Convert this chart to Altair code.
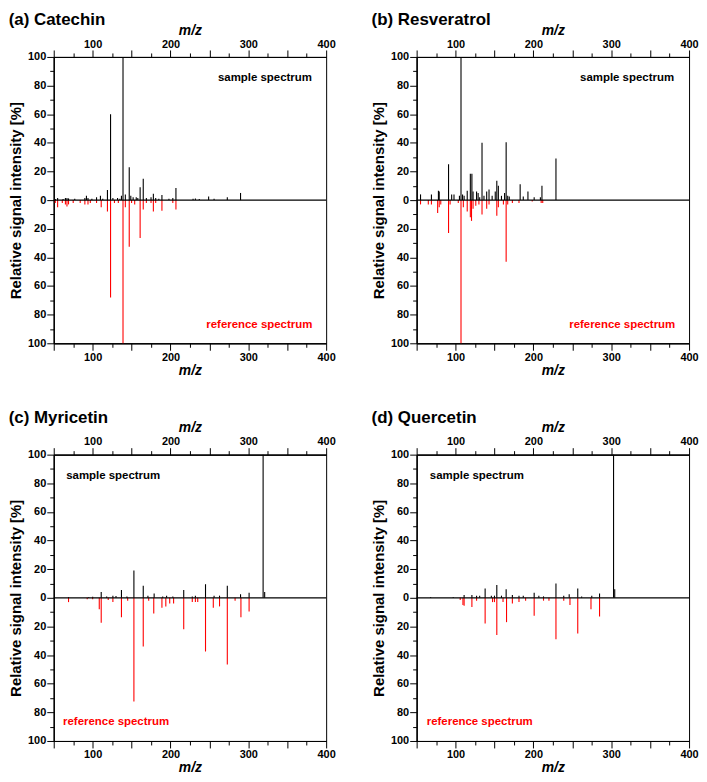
import altair as alt
import pandas as pd

# ── Peak lists: m/z and relative intensity [%] ──────────────────────────────
catechin_sample_mz = [52, 55, 62, 65, 67, 69, 77, 90, 92, 94, 99, 105, 110, 113,
                      119, 123, 126, 132, 135, 137, 139, 142, 147, 149, 152, 156,
                      158, 161, 165, 169, 175, 178, 181, 185, 189, 198, 203, 207,
                      229, 232, 237, 249, 256, 273, 290]
catechin_sample_int = [0.8, 1.5, 0.8, 1.5, 1.5, 1.2, 1, 1.5, 3, 1.5, 1, 2, 3, 1,
                       7, 60, 1.5, 1.5, 1, 3, 100, 4, 23, 3, 2, 2,
                       1.5, 9, 15, 1.5, 2, 4.5, 1.5, 1, 3.5, 1, 1.5, 8.5,
                       1, 1.2, 0.8, 2.5, 1, 2, 5]
catechin_ref_mz = [52, 55, 61, 65, 67, 69, 75, 84, 90, 94, 97, 105, 111, 119,
                   123, 128, 133, 139, 142, 147, 150, 154, 161, 165, 169, 175,
                   178, 181, 189, 203, 207]
catechin_ref_int = [2, 5, 2, 3, 4.5, 3, 2, 2, 3, 3, 2, 2, 5, 8,
                    68, 2, 2, 100, 5, 32.5, 2, 3, 26.5, 6.5, 2, 2,
                    8, 2, 7.5, 2, 6.5]

resveratrol_sample_mz = [55, 69, 78, 79, 91, 95, 98, 105, 107, 109, 111, 115, 119,
                         121, 122.5, 127, 129, 131, 134, 136.5, 140, 143, 147, 151,
                         153, 155, 159, 163, 165, 167, 169, 183, 187, 193, 201,
                         209, 211, 229]
resveratrol_sample_int = [4, 4, 6.5, 6, 25, 4, 4, 3, 100, 4, 3, 6.5, 18.5,
                          18.5, 6, 6, 5, 2, 40, 3, 6, 7.5, 3, 6,
                          13.5, 10, 3, 5, 40.5, 3, 2.5, 11, 2.5, 6, 2,
                          2, 10, 29]
resveratrol_ref_mz = [55, 65, 69, 77, 79, 81, 91, 93, 103.5, 107, 110, 115, 119,
                      120.5, 122.5, 126, 130, 134, 140, 143, 153, 155, 161.5, 165,
                      167, 173, 181.5, 198.5, 210, 212]
resveratrol_ref_int = [3, 3, 3, 9, 5, 3, 23, 3, 2, 100, 5, 8, 12,
                       14.5, 6, 4, 3, 10, 6, 3, 11, 5, 3, 43,
                       3, 2, 2, 1, 2, 2]

myricetin_sample_mz = [69, 95, 100, 111, 118, 126, 130, 137, 144, 153, 165, 171,
                       179, 190, 195, 203, 217, 228, 232, 245, 256, 263, 273, 290,
                       301, 319, 321]
myricetin_sample_int = [0.5, 0.5, 0.8, 4, 1, 1.5, 1.2, 5.5, 1, 19, 8.5, 1.5,
                        3, 1, 1.5, 1, 5.5, 1, 1.5, 9.5, 1.5, 1.5, 8.5, 2.5,
                        3.5, 100, 4]
myricetin_ref_mz = [69, 93, 100, 108.5, 111, 120, 126, 137, 145, 153, 165, 172,
                    178.5, 189, 194, 199, 204, 217, 228, 232, 235, 245, 255, 263,
                    273, 283, 290.5, 301]
myricetin_ref_int = [3, 1, 1, 8, 17.5, 1.5, 3, 13.5, 2, 72.5, 34, 2,
                     11, 7, 6, 4, 4, 22, 3, 3, 3, 37.5, 7, 6,
                     46.5, 2, 13.5, 9.5]

quercetin_sample_mz = [68, 97, 111, 121, 127, 131, 138, 146, 150, 153, 159, 165,
                       173, 181.5, 187, 201, 207, 213, 229, 239, 246, 257, 262,
                       275, 285, 303, 304.5]
quercetin_sample_int = [0.5, 0.5, 2, 2, 1.5, 1.5, 6.5, 1.5, 1.5, 9, 1.5, 6,
                        2, 1.5, 1.5, 3.5, 1.5, 1, 10, 1.5, 2.5, 6.5, 1,
                        1.5, 3, 100, 6]
quercetin_ref_mz = [106, 109.5, 111, 121, 127, 138, 147.5, 150, 153, 161, 165.5,
                    173, 181.5, 190, 201, 213, 220, 229, 239, 247, 257, 274, 285]
quercetin_ref_int = [1.5, 5, 5.5, 6.5, 2, 18, 3, 3, 26, 3, 17,
                     4, 3, 2, 12.5, 2, 2, 29, 2, 5, 25, 8, 13]

# ── Shared styling ───────────────────────────────────────────────────────────
FONT = "Liberation Sans"
RED = "#ff0000"
W, H = 274, 288
MAJOR_TICK, MINOR_TICK = 7, 4
X_MAJOR = [50, 100, 150, 200, 250, 300, 350, 400]
X_MINOR = [75, 125, 175, 225, 275, 325, 375]
Y_MAJOR = list(range(-100, 101, 20))
Y_MINOR = list(range(-90, 91, 20))
ONE_ROW = pd.DataFrame({"k": [0]})


def x_axis(orient, values, size, labels, title=""):
    kw = dict(orient=orient, values=values, tickSize=size, labels=labels,
              title=title, labelPadding=1, labelFlush=False)
    if labels:
        kw["labelExpr"] = "datum.value % 100 == 0 ? datum.label : ''"
    return alt.Axis(**kw)


def panel(name, s_mz, s_int, r_mz, r_int, text_mz, ref_text_mz):
    xs = alt.Scale(domain=[50, 400], nice=False, zero=False)
    ys = alt.Scale(domain=[-100, 100], nice=False)
    sample = pd.DataFrame({"mz": s_mz, "inten": s_int})
    ref = pd.DataFrame({"mz": r_mz, "inten": r_int})

    # sample spectrum (black, upwards) carries the top major axis + y major axis
    up = alt.Chart(sample).mark_rule(color="black", strokeWidth=1.1).encode(
        x=alt.X("mz:Q", scale=xs,
                axis=x_axis("top", X_MAJOR, MAJOR_TICK, True, "m/z")),
        y=alt.Y("inten:Q", scale=ys, axis=alt.Axis(
            orient="left", values=Y_MAJOR, tickSize=MAJOR_TICK, labelPadding=1,
            labelExpr="abs(datum.value)",
            title="Relative signal intensity [%]")),
        y2=alt.datum(0),
    )

    # reference spectrum (red, downwards) carries the minor ticks
    down = alt.Chart(ref).transform_calculate(neg="-datum.inten").mark_rule(
        color=RED, strokeWidth=1.1
    ).encode(
        x=alt.X("mz:Q", scale=xs, axis=x_axis("top", X_MINOR, MINOR_TICK, False)),
        y=alt.Y("neg:Q", scale=ys, axis=alt.Axis(
            orient="left", values=Y_MINOR, tickSize=MINOR_TICK, labels=False,
            title="")),
        y2=alt.datum(0),
    )

    zero = alt.Chart(ONE_ROW).mark_rule(color="black", strokeWidth=1.2).encode(
        x=alt.XDatum(50, type="quantitative", scale=xs,
                     axis=x_axis("bottom", X_MAJOR, MAJOR_TICK, True, "m/z")),
        x2=alt.datum(400),
        y=alt.YDatum(0, type="quantitative", scale=ys, axis=None),
    )

    s_label = alt.Chart(ONE_ROW).mark_text(
        align="left", baseline="middle", font=FONT, fontSize=11.5,
        fontWeight="bold", color="black",
    ).encode(
        x=alt.XDatum(text_mz, type="quantitative", scale=xs,
                     axis=x_axis("bottom", X_MINOR, MINOR_TICK, False)),
        y=alt.YDatum(85, type="quantitative", scale=ys, axis=None),
        text=alt.value("sample spectrum"),
    )

    r_label = alt.Chart(ONE_ROW).mark_text(
        align="left", baseline="middle", font=FONT, fontSize=11.5,
        fontWeight="bold", color=RED,
    ).encode(
        x=alt.XDatum(ref_text_mz, type="quantitative", scale=xs, axis=None),
        y=alt.YDatum(-87, type="quantitative", scale=ys, axis=None),
        text=alt.value("reference spectrum"),
    )

    return (
        alt.layer(up, down, zero, s_label, r_label)
        .resolve_axis(x="independent", y="independent")
        .properties(
            width=W, height=H,
            title=alt.TitleParams(name, anchor="start", frame="bounds",
                                  font=FONT, fontSize=17, fontWeight="bold",
                                  offset=-6),
        )
    )


a = panel("(a) Catechin", catechin_sample_mz, catechin_sample_int,
          catechin_ref_mz, catechin_ref_int, 261, 246)
b = panel("(b) Resveratrol", resveratrol_sample_mz, resveratrol_sample_int,
          resveratrol_ref_mz, resveratrol_ref_int, 260, 246)
c = panel("(c) Myricetin", myricetin_sample_mz, myricetin_sample_int,
          myricetin_ref_mz, myricetin_ref_int, 66, 62)
d = panel("(d) Quercetin", quercetin_sample_mz, quercetin_sample_int,
          quercetin_ref_mz, quercetin_ref_int, 67, 63)

chart = (
    alt.vconcat(alt.hconcat(a, b, spacing=35), alt.hconcat(c, d, spacing=35),
                spacing=30)
    .properties(padding=0)
    .configure_view(stroke="black", strokeWidth=1)
    .configure_axis(
        grid=False, domainColor="black", tickColor="black", labelColor="black",
        labelFont=FONT, labelFontSize=11, labelFontWeight="bold",
        titleFont=FONT, titleColor="black", titleFontWeight="bold",
    )
    .configure_axisX(titleFontSize=14, titleFontStyle="italic", titlePadding=1)
    .configure_axisY(titleFontSize=15, titlePadding=4)
)

chart.save("out.html", embed_options={"renderer": "svg", "actions": False})
